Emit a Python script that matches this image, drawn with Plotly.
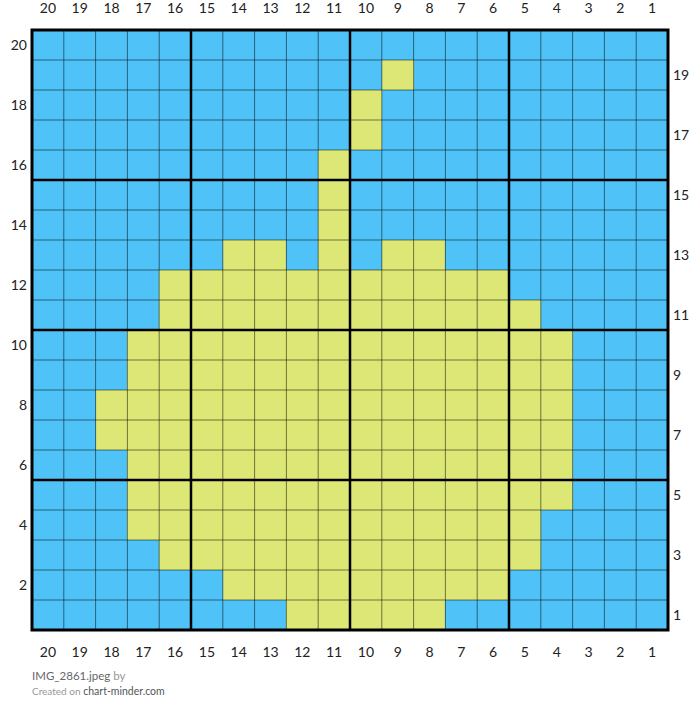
import plotly.graph_objects as go

# column labels (left to right) and row labels (bottom to top)
col_labels = [20, 19, 18, 17, 16, 15, 14, 13, 12, 11, 10, 9, 8, 7, 6, 5, 4, 3, 2, 1]
row_labels = list(range(1, 21))

# 1 = yellow, 0 = blue; each row listed left (col 20) to right (col 1); rows from 20 (top) to 1 (bottom)
pattern_top_down = [
    [0,0,0,0,0,0,0,0,0,0,0,0,0,0,0,0,0,0,0,0],  # 20
    [0,0,0,0,0,0,0,0,0,0,0,1,0,0,0,0,0,0,0,0],  # 19
    [0,0,0,0,0,0,0,0,0,0,1,0,0,0,0,0,0,0,0,0],  # 18
    [0,0,0,0,0,0,0,0,0,0,1,0,0,0,0,0,0,0,0,0],  # 17
    [0,0,0,0,0,0,0,0,0,1,0,0,0,0,0,0,0,0,0,0],  # 16
    [0,0,0,0,0,0,0,0,0,1,0,0,0,0,0,0,0,0,0,0],  # 15
    [0,0,0,0,0,0,0,0,0,1,0,0,0,0,0,0,0,0,0,0],  # 14
    [0,0,0,0,0,0,1,1,0,1,0,1,1,0,0,0,0,0,0,0],  # 13
    [0,0,0,0,1,1,1,1,1,1,1,1,1,1,1,0,0,0,0,0],  # 12
    [0,0,0,0,1,1,1,1,1,1,1,1,1,1,1,1,0,0,0,0],  # 11
    [0,0,0,1,1,1,1,1,1,1,1,1,1,1,1,1,1,0,0,0],  # 10
    [0,0,0,1,1,1,1,1,1,1,1,1,1,1,1,1,1,0,0,0],  # 9
    [0,0,1,1,1,1,1,1,1,1,1,1,1,1,1,1,1,0,0,0],  # 8
    [0,0,1,1,1,1,1,1,1,1,1,1,1,1,1,1,1,0,0,0],  # 7
    [0,0,0,1,1,1,1,1,1,1,1,1,1,1,1,1,1,0,0,0],  # 6
    [0,0,0,1,1,1,1,1,1,1,1,1,1,1,1,1,1,0,0,0],  # 5
    [0,0,0,1,1,1,1,1,1,1,1,1,1,1,1,1,0,0,0,0],  # 4
    [0,0,0,0,1,1,1,1,1,1,1,1,1,1,1,1,0,0,0,0],  # 3
    [0,0,0,0,0,0,1,1,1,1,1,1,1,1,1,0,0,0,0,0],  # 2
    [0,0,0,0,0,0,0,0,1,1,1,1,1,0,0,0,0,0,0,0],  # 1
]

BLUE = "#4FC3F7"
YELLOW = "#DCE775"
FONT = "Lato"

z = pattern_top_down[::-1]  # bottom-up to match row_labels

fig = go.Figure()
fig.add_trace(go.Heatmap(
    x=col_labels, y=row_labels, z=z,
    colorscale=[[0, BLUE], [0.5, BLUE], [0.5, YELLOW], [1, YELLOW]],
    zmin=0, zmax=1, showscale=False, hoverinfo="skip",
))
# invisible helper trace to carry the top and right axes
fig.add_trace(go.Scatter(
    x=[col_labels[0]], y=[row_labels[0]], xaxis="x2", yaxis="y2",
    mode="markers", marker=dict(opacity=0), showlegend=False, hoverinfo="skip",
))

n = len(col_labels)
shapes = []
for i in range(1, n):
    b = i + 0.5
    major = (i % 5 == 0)
    style = dict(color="#000000", width=2.5) if major else dict(color="rgba(0,0,0,0.5)", width=1)
    shapes.append(dict(type="line", xref="x", yref="paper", x0=b, x1=b, y0=0, y1=1,
                       line=style, layer="above"))
    shapes.append(dict(type="line", xref="paper", yref="y", x0=0, x1=1, y0=b, y1=b,
                       line=style, layer="above"))
shapes.append(dict(type="rect", xref="paper", yref="paper", x0=0, x1=1, y0=0, y1=1,
                   line=dict(color="#000000", width=3), layer="above"))

tickfont = dict(family=FONT, size=14, color="#222222")
xrange = [n + 0.5, 0.5]
yrange = [0.5, n + 0.5]

common = dict(showgrid=False, zeroline=False, ticks="", tickfont=tickfont,
              fixedrange=True, automargin=False)

fig.update_layout(
    width=699, height=723,
    margin=dict(l=32, r=31, t=30, b=93),
    paper_bgcolor="white", plot_bgcolor="white",
    shapes=shapes,
    xaxis=dict(range=xrange, tickvals=col_labels, ticktext=[str(c) for c in col_labels],
               ticklabelstandoff=12, **common),
    xaxis2=dict(range=xrange, overlaying="x", side="top", anchor="y",
                tickvals=col_labels, ticktext=[str(c) for c in col_labels],
                ticklabelstandoff=13, **common),
    yaxis=dict(range=yrange, tickvals=[r for r in row_labels if r % 2 == 0],
               ticklabelstandoff=4, **common),
    yaxis2=dict(range=yrange, overlaying="y", side="right", anchor="x",
                tickvals=[r for r in row_labels if r % 2 == 1],
                ticklabelstandoff=4, **common),
    annotations=[
        dict(xref="paper", yref="paper", x=0, y=-0.076, xanchor="left", yanchor="middle",
             showarrow=False, xshift=-2,
             text="<span style='color:#666666'>IMG_2861.jpeg</span> <span style='color:#999999'>by</span>",
             font=dict(family=FONT, size=11.5)),
        dict(xref="paper", yref="paper", x=0, y=-0.101, xanchor="left", yanchor="middle",
             showarrow=False, xshift=-2,
             text="<span style='color:#999999;font-size:10px'>Created on</span> <span style='color:#555555'>chart-minder.com</span>",
             font=dict(family=FONT, size=10.5)),
    ],
)

fig.write_html("out.html", config={"displayModeBar": False},
               post_script="document.body.style.margin='0';document.body.style.overflow='hidden';")
